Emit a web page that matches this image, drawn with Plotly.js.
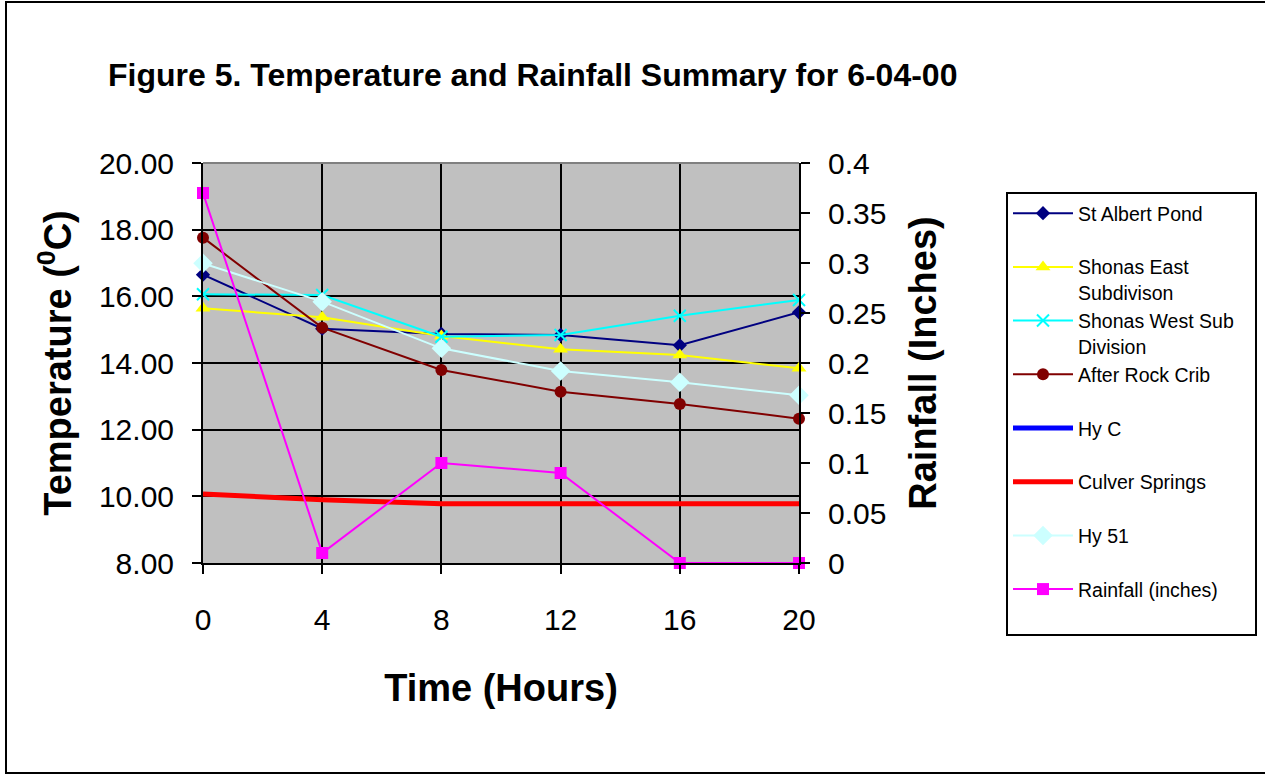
<!DOCTYPE html>
<html>
<head>
<meta charset="utf-8">
<script src="https://cdn.plot.ly/plotly-3.0.1.min.js"></script>
<style>
  html, body { margin: 0; padding: 0; background: #fff; }
  #chart { position: absolute; left: 0; top: 0; width: 1265px; height: 774px; }
  #frame { position: absolute; left: 5px; top: 1px; width: 1270px; height: 769px; border: 2px solid #000; pointer-events: none; }
</style>
</head>
<body>
<div id="chart"></div>
<div id="frame"></div>
<script>
const time = [0, 4, 8, 12, 16, 20];
const stAlbertPond = [16.65, 15.03, 14.87, 14.84, 14.53, 15.52];
const shonasEast = [15.64, 15.37, 14.81, 14.41, 14.24, 13.84];
const shonasWest = [16.06, 16.04, 14.79, 14.84, 15.42, 15.89];
const afterRockCrib = [17.76, 15.06, 13.79, 13.14, 12.77, 12.33];
const hyC = [null, null, null, null, null, null];
const culverSprings = [10.07, 9.90, 9.78, 9.78, 9.78, 9.78];
const hy51 = [16.99, 15.84, 14.44, 13.76, 13.42, 13.03];
const rainfall = [0.37, 0.01, 0.10, 0.09, 0.0, 0.0];
const seriesNames = ["St Albert Pond", "Shonas East<br>Subdivison", "Shonas West Sub<br>Division",
  "After Rock Crib", "Hy C", "Culver Springs", "Hy 51", "Rainfall (inches)"];

const FONT = "Arial, 'Liberation Sans', sans-serif";
const NB = '\u00A0';

// legend label formatting: every entry takes two lines so the spacing is even
function legendLabel(name, i) {
  let s = name.indexOf('<br>') >= 0 ? name : name + '<br>' + NB;
  if (i === 2) s = s.replace('<br>', NB + NB + NB + '<br>');
  return s;
}

function tr(i, y, color, opts) {
  return Object.assign({
    type: 'scatter', mode: 'lines+markers', x: time, y: y, name: legendLabel(seriesNames[i], i),
    line: {color: color, width: 2}, cliponaxis: false
  }, opts);
}

const data = [
  tr(0, stAlbertPond, '#000080', {marker: {symbol: 'diamond', size: 11, color: '#000080'}}),
  tr(1, shonasEast, '#FFFF00', {marker: {symbol: 'triangle-up', size: 13, color: '#FFFF00'}}),
  tr(2, shonasWest, '#00FFFF', {marker: {symbol: 'x-thin', size: 12, color: '#00FFFF', line: {color: '#00FFFF', width: 2}}}),
  tr(3, afterRockCrib, '#800000', {marker: {symbol: 'circle', size: 12, color: '#800000'}}),
  tr(4, hyC, '#0000FF', {mode: 'lines', line: {color: '#0000FF', width: 5}}),
  tr(5, culverSprings, '#FF0000', {mode: 'lines', line: {color: '#FF0000', width: 5}}),
  tr(6, hy51, '#CCFFFF', {marker: {symbol: 'diamond', size: 15, color: '#CCFFFF'}}),
  tr(7, rainfall, '#FF00FF', {yaxis: 'y2', marker: {symbol: 'square', size: 12, color: '#FF00FF'}})
];

const layout = {
  width: 1265, height: 774,
  margin: {l: 203, r: 466, t: 163, b: 211, pad: 0, autoexpand: false},
  paper_bgcolor: '#FFFFFF',
  plot_bgcolor: '#C0C0C0',
  font: {family: FONT, color: '#000'},
  title: {
    text: '<b>Figure 5. Temperature and Rainfall Summary for 6-04-00</b>',
    font: {family: FONT, size: 32, color: '#000'},
    x: 108 / 1265, xref: 'container', xanchor: 'left',
    y: 1 - 75 / 774, yref: 'container', yanchor: 'middle'
  },
  xaxis: {
    range: [0, 20], tickmode: 'linear', tick0: 0, dtick: 4,
    showgrid: true, gridcolor: '#000', gridwidth: 2,
    showline: true, linecolor: '#000', linewidth: 2,
    ticks: 'outside', ticklen: 9, tickwidth: 2, tickcolor: '#000',
    ticklabelstandoff: 20,
    tickfont: {family: FONT, size: 30, color: '#000'},
    zeroline: false, fixedrange: true,
    title: {text: '<b>Time (Hours)</b>', font: {family: FONT, size: 38, color: '#000'}, standoff: 39}
  },
  yaxis: {
    range: [8, 20], tickmode: 'linear', tick0: 8, dtick: 2, tickformat: '.2f',
    showgrid: true, gridcolor: '#000', gridwidth: 2,
    showline: true, linecolor: '#000', linewidth: 2,
    ticks: 'outside', ticklen: 9, tickwidth: 2, tickcolor: '#000',
    ticklabelstandoff: 12,
    tickfont: {family: FONT, size: 30, color: '#000'},
    zeroline: false, fixedrange: true,
    title: {text: '<b>Temperature (<sup>0</sup>C)</b>', font: {family: FONT, size: 38, color: '#000'}, standoff: 16}
  },
  yaxis2: {
    range: [0, 0.4], tickmode: 'linear', tick0: 0, dtick: 0.05,
    overlaying: 'y', side: 'right',
    showgrid: false, zeroline: false,
    showline: true, linecolor: '#000', linewidth: 2,
    ticks: 'outside', ticklen: 9, tickwidth: 2, tickcolor: '#000',
    ticklabelstandoff: 12,
    tickfont: {family: FONT, size: 30, color: '#000'},
    fixedrange: true,
    title: {text: '<b>Rainfall (Inches)</b>', font: {family: FONT, size: 38, color: '#000'}, standoff: 24}
  },
  legend: {
    xref: 'container', yref: 'container',
    x: 1006 / 1265, xanchor: 'left',
    y: 1 - 192 / 774, yanchor: 'top',
    bgcolor: '#FFFFFF', bordercolor: '#000', borderwidth: 2,
    font: {family: FONT, size: 19.5, color: '#000'},
    itemwidth: 60, valign: 'top', tracegroupgap: 0,
    traceorder: 'normal', maxheight: 600
  },
  shapes: [
    {type: 'line', xref: 'paper', yref: 'paper', x0: 0, x1: 1, y0: 1, y1: 1, line: {color: '#808080', width: 2}}
  ],
  showlegend: true
};

Plotly.newPlot('chart', data, layout, {displayModeBar: false, staticPlot: true});
</script>
</body>
</html>
